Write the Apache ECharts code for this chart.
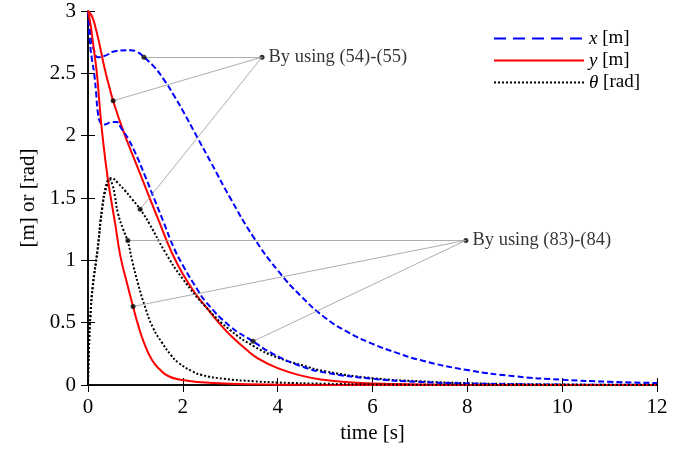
<!DOCTYPE html>
<html>
<head>
<meta charset="utf-8">
<script src="https://cdn.jsdelivr.net/npm/echarts@6/dist/echarts.min.js"></script>
<style>html,body{margin:0;padding:0;background:#fff}#c{width:682px;height:452px}</style>
</head>
<body>
<div id="c"></div>
<script>
// ---- data: [time, value] pairs ----
var xTicks = [0, 2, 4, 6, 8, 10, 12];
var yTicks = [0, 0.5, 1, 1.5, 2, 2.5, 3];

// By using (54)-(55)
var xA = [[0,3.0],[0.04,2.88],[0.08,2.76],[0.14,2.67],[0.2,2.63],[0.35,2.64],[0.6,2.68],[0.9,2.685],[1.05,2.67],[1.18,2.63],[1.4,2.55],[1.6,2.45],[1.8,2.33],[2.0,2.2],[2.3,1.99],[2.6,1.78],[3.0,1.5],[3.5,1.18],[4.0,0.92],[4.5,0.71],[5.0,0.54],[5.5,0.42],[6.0,0.33],[6.5,0.26],[7.0,0.2],[8.0,0.12],[9.0,0.07],[10.0,0.042],[11.0,0.026],[12.0,0.016]];
var yA = [[0,3.0],[0.08,2.96],[0.15,2.88],[0.25,2.72],[0.35,2.54],[0.45,2.39],[0.53,2.28],[0.65,2.14],[0.8,1.98],[1.0,1.79],[1.27,1.53],[1.5,1.31],[1.77,1.06],[2.0,0.89],[2.29,0.72],[2.5,0.62],[2.78,0.49],[3.0,0.4],[3.35,0.28],[3.6,0.21],[4.0,0.135],[4.5,0.075],[5.0,0.04],[5.5,0.022],[6.0,0.012],[7.0,0.004],[8.0,0.001],[12.0,0]];
var thA = [[0,0],[0.02,0.3],[0.05,0.55],[0.1,0.8],[0.2,1.08],[0.3,1.42],[0.4,1.6],[0.5,1.66],[0.63,1.62],[0.78,1.56],[0.93,1.49],[1.1,1.41],[1.3,1.29],[1.62,1.07],[2.0,0.85],[2.5,0.62],[3.0,0.44],[3.5,0.31],[4.0,0.22],[4.5,0.16],[5.0,0.11],[6.0,0.055],[7.0,0.03],[8.0,0.015],[9.0,0.008],[10.0,0.004],[12.0,0.001]];

// By using (83)-(84)
var xB = [[0,3.0],[0.04,2.75],[0.08,2.62],[0.13,2.5],[0.17,2.35],[0.21,2.18],[0.27,2.1],[0.35,2.09],[0.5,2.11],[0.6,2.11],[0.7,2.06],[0.84,1.98],[1.0,1.86],[1.2,1.68],[1.4,1.49],[1.6,1.3],[1.8,1.11],[2.0,0.96],[2.3,0.77],[2.5,0.66],[3.0,0.47],[3.48,0.35],[3.9,0.25],[4.5,0.15],[5.0,0.1],[6.0,0.05],[7.0,0.025],[8.0,0.012],[9.0,0.006],[10.0,0.003],[12.0,0.001]];
var yB = [[0,3.0],[0.05,2.9],[0.1,2.76],[0.19,2.49],[0.25,2.22],[0.3,2.02],[0.42,1.65],[0.57,1.3],[0.68,1.04],[0.8,0.85],[0.95,0.63],[1.05,0.49],[1.18,0.34],[1.35,0.2],[1.5,0.13],[1.7,0.07],[2.0,0.04],[2.3,0.025],[3.0,0.01],[4.0,0.003],[5.0,0.001],[12.0,0]];
var thB = [[0,0],[0.02,0.3],[0.05,0.55],[0.1,0.78],[0.2,1.08],[0.3,1.42],[0.38,1.6],[0.45,1.65],[0.52,1.6],[0.57,1.51],[0.63,1.38],[0.74,1.25],[0.84,1.15],[0.93,1.0],[1.05,0.82],[1.2,0.63],[1.37,0.46],[1.56,0.34],[1.75,0.24],[1.9,0.18],[2.2,0.11],[2.4,0.08],[2.85,0.05],[3.5,0.03],[4.0,0.02],[5.0,0.01],[6.0,0.005],[8.0,0.001],[12.0,0]];

// annotations
var annotTexts = ['By using (54)-(55)', 'By using (83)-(84)'];
var annotAnchors = [[3.67, 2.63], [7.97, 1.16]];
var annotTargetsA = [[1.18, 2.63], [0.53, 2.28], [1.1, 1.41]];
var annotTargetsB = [[0.84, 1.16], [0.95, 0.63], [3.48, 0.35]];

// ---- chart ----
var FONT = "'Liberation Serif','Times New Roman',serif";
var chart = echarts.init(document.getElementById('c'), null, {renderer: 'canvas'});

function curve(name, data, color, type, width) {
  return {
    name: name, type: 'line', data: data, symbol: 'none', showSymbol: false,
    smooth: 0.5, z: 3, animation: false, silent: true,
    lineStyle: {color: color, width: width, type: type}, itemStyle: {color: color}
  };
}

var markData = [];
annotTargetsA.forEach(function (p) { markData.push([{coord: annotAnchors[0]}, {coord: p}]); });
annotTargetsB.forEach(function (p) { markData.push([{coord: annotAnchors[1]}, {coord: p}]); });

var blueDash = [6, 3];
var blackDot = [2, 2];

var axisCommon = {
  type: 'value',
  axisLine: {show: true, lineStyle: {color: '#000', width: 1.5}},
  axisTick: {show: true, inside: true, length: 7, lineStyle: {color: '#000', width: 1}},
  splitLine: {show: false}
};

chart.setOption({
  animation: false,
  backgroundColor: '#fff',
  textStyle: {fontFamily: FONT},
  grid: {left: 88, right: 25, top: 11, bottom: 67, containLabel: false},
  legend: {
    left: 488, top: 24, orient: 'vertical', itemWidth: 90, itemHeight: 14, itemGap: 3,
    textStyle: {fontFamily: FONT, fontSize: 19, color: '#000', rich: {i: {fontStyle: 'italic', fontFamily: FONT, fontSize: 19}}},
    formatter: function (n) {
      if (n === 'x [m]') return '{i|x} [m]';
      if (n === 'y [m]') return '{i|y} [m]';
      return '{i|θ} [rad]';
    },
    data: [
      {name: 'x [m]', itemStyle: {opacity: 0}, lineStyle: {type: [12, 7], width: 2, color: '#0000ff'}},
      {name: 'y [m]', itemStyle: {opacity: 0}, lineStyle: {type: 'solid', width: 2, color: '#ff0000'}},
      {name: 'θ [rad]', itemStyle: {opacity: 0}, lineStyle: {type: [2, 2], width: 2, color: '#000'}}
    ],
    selectedMode: false
  },
  xAxis: [
    Object.assign({}, axisCommon, {
      min: xTicks[0], max: xTicks[xTicks.length - 1], interval: 2, position: 'bottom',
      name: 'time [s]', nameLocation: 'middle', nameGap: 35,
      nameTextStyle: {fontFamily: FONT, fontSize: 21, color: '#000'},
      axisLabel: {margin: 12, fontFamily: FONT, fontSize: 21, color: '#000'}
    }),
    Object.assign({}, axisCommon, {
      min: xTicks[0], max: xTicks[xTicks.length - 1], interval: 2, position: 'top',
      axisLabel: {show: false}
    })
  ],
  yAxis: [
    Object.assign({}, axisCommon, {
      min: yTicks[0], max: yTicks[yTicks.length - 1], interval: 0.5, position: 'left',
      name: '[m] or [rad]', nameLocation: 'middle', nameGap: 40, nameRotate: 90,
      nameTextStyle: {fontFamily: FONT, fontSize: 21, color: '#000'},
      axisLabel: {margin: 12, fontFamily: FONT, fontSize: 21, color: '#000'}
    }),
    Object.assign({}, axisCommon, {
      min: yTicks[0], max: yTicks[yTicks.length - 1], interval: 0.5, position: 'right',
      axisLabel: {show: false}
    })
  ],
  series: [
    {
      name: 'annot', type: 'scatter', z: 2, silent: true,
      data: annotAnchors.map(function (p, i) { return {value: p, label: {show: true, formatter: annotTexts[i]}}; }),
      symbol: 'circle', symbolSize: 5, itemStyle: {color: '#000'},
      label: {position: 'right', distance: 4, fontFamily: FONT, fontSize: 18.5, color: '#000'},
      markLine: {
        silent: true, symbol: ['none', 'none'], animation: false,
        label: {show: false},
        lineStyle: {color: '#999', width: 0.8, type: 'solid'},
        emphasis: {disabled: true},
        data: markData
      }
    },
    curve('x [m]', xA, '#0000ff', blueDash, 2),
    curve('y [m]', yA, '#ff0000', 'solid', 2),
    curve('θ [rad]', thA, '#000000', blackDot, 2),
    curve('x [m]', xB, '#0000ff', blueDash, 2),
    curve('y [m]', yB, '#ff0000', 'solid', 2),
    curve('θ [rad]', thB, '#000000', blackDot, 2),
    {
      name: 'dots', type: 'scatter', z: 5, silent: true,
      data: annotTargetsA.concat(annotTargetsB),
      symbol: 'circle', symbolSize: 5, itemStyle: {color: '#000'}
    }
  ]
});
</script>
</body>
</html>
